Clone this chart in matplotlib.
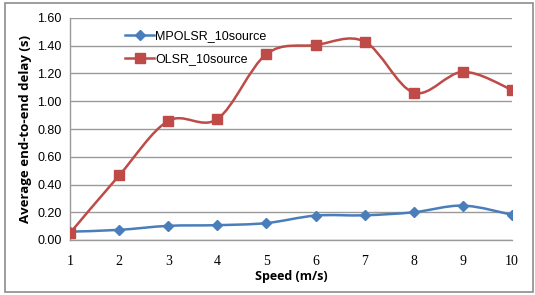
import numpy as np
import matplotlib.pyplot as plt
from matplotlib.path import Path
from matplotlib.patches import PathPatch, Rectangle
from matplotlib.lines import Line2D

speed = [1, 2, 3, 4, 5, 6, 7, 8, 9, 10]
mpolsr = [0.06, 0.073, 0.102, 0.107, 0.122, 0.176, 0.178, 0.200, 0.248, 0.182]
olsr = [0.05, 0.465, 0.858, 0.872, 1.34, 1.405, 1.43, 1.062, 1.212, 1.082]

blue = '#4a7ebb'
red = '#be4b48'


def smooth_path(x, y):
    # Excel-style smoothed line: Catmull-Rom segments as cubic Beziers
    x = np.asarray(x, float)
    y = np.asarray(y, float)
    px = np.concatenate([[x[0]], x, [x[-1]]])
    py = np.concatenate([[y[0]], y, [y[-1]]])
    verts = [(x[0], y[0])]
    codes = [Path.MOVETO]
    for i in range(1, len(px) - 2):
        c1 = (px[i] + (px[i + 1] - px[i - 1]) / 6, py[i] + (py[i + 1] - py[i - 1]) / 6)
        c2 = (px[i + 1] - (px[i + 2] - px[i]) / 6, py[i + 1] - (py[i + 2] - py[i]) / 6)
        verts += [c1, c2, (px[i + 1], py[i + 1])]
        codes += [Path.CURVE4] * 3
    return Path(verts, codes)


fig = plt.figure(figsize=(5.35, 2.95), dpi=100)
ax = fig.add_axes([70 / 535, 1 - 240 / 295, 442 / 535, 222 / 295])

for vals, col, mk, ms in [(mpolsr, blue, 'D', 5), (olsr, red, 's', 7)]:
    ax.add_patch(PathPatch(smooth_path(speed, vals), fc='none', ec=col, lw=1.8, zorder=3))
    ax.plot(speed, vals, ls='none', marker=mk, ms=ms, color=col, zorder=4)

ax.set_xlim(1, 10)
ax.set_ylim(0, 1.6)
ax.set_yticks(np.arange(0, 1.61, 0.2))
ax.set_yticklabels(['%.2f' % v for v in np.arange(0, 1.61, 0.2)],
                   fontsize=9, family='Liberation Sans')
ax.set_xticks(speed)
ax.set_xticklabels([str(s) for s in speed], fontsize=10, family='Liberation Serif')
ax.tick_params(length=0, pad=6)
ax.tick_params(axis='x', pad=11)
ax.grid(axis='y', color='#9a9a9a', lw=1)
ax.set_axisbelow(True)
for s in ['top', 'right']:
    ax.spines[s].set_visible(False)
ax.spines['left'].set_color('#9a9a9a')
ax.spines['bottom'].set_color('#9a9a9a')
ax.spines['left'].set_linewidth(1)
ax.spines['bottom'].set_linewidth(1)
ax.patch.set_visible(False)

ax.set_xlabel('Speed (m/s)', fontsize=9, fontweight='bold', family='Open Sans', labelpad=1)
ax.set_ylabel('Average end-to-end delay (s)', fontsize=9.5, fontweight='bold',
              family='Open Sans', labelpad=4)

handles = [Line2D([], [], color=blue, lw=1.8, marker='D', ms=5),
           Line2D([], [], color=red, lw=1.8, marker='s', ms=7)]
ax.legend(handles, ['MPOLSR_10source', 'OLSR_10source'], loc='upper left',
          bbox_to_anchor=(0.1, 0.995), frameon=False,
          prop={'family': 'Liberation Sans', 'size': 9},
          handlelength=2.3, handletextpad=0.1, labelspacing=0.85)

fig.patches.append(Rectangle((5 / 535, 3 / 295), 528 / 535, 289 / 295,
                             transform=fig.transFigure, fill=False,
                             ec='#8c8c8c', lw=1.2))

fig.savefig('out.png', dpi=100)
